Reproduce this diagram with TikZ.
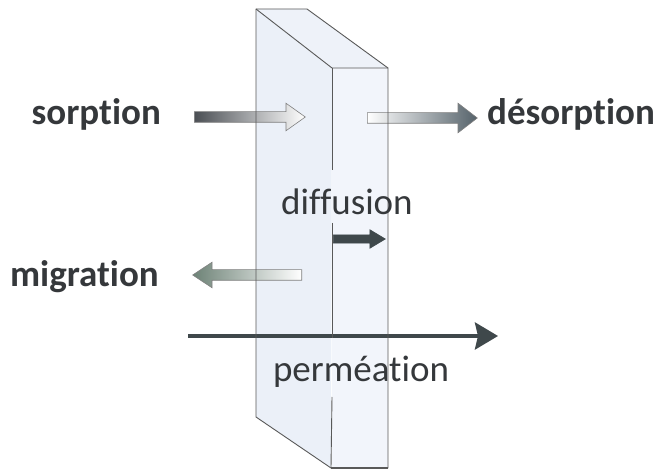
\documentclass[tikz,border=0pt]{standalone}
\usepackage{fontspec}
\setmainfont{Carlito}[Ligatures={NoCommon,NoContextual}, RawFeature={-liga;-clig;-calt;-dlig}]
\usepackage{xcolor}
\usetikzlibrary{shapes.arrows, arrows.meta}
\definecolor{txt}{HTML}{35383B}
\definecolor{sideface}{HTML}{EBF0F8}
\definecolor{frontface}{HTML}{F2F5FB}
\definecolor{topface}{HTML}{EEF2F9}
\definecolor{sordark}{HTML}{4B4F54}
\definecolor{desdark}{HTML}{55626A}
\definecolor{migdark}{HTML}{6D8276}
\definecolor{difdark}{HTML}{3F484B}

\begin{document}
\begin{tikzpicture}[x=1pt, y=-1pt]
\tikzset{
  lbl/.style={font=\fontsize{37}{40}\selectfont, text=txt, inner sep=0pt},
  bold/.style={font=\fontsize{37}{40}\selectfont\bfseries},
  edge/.style={draw=black!65, line width=0.9pt, line join=round},
  blk/.style={single arrow, draw=black!50, line width=0.6pt, inner xsep=0pt, inner ysep=5pt, anchor=tail},
  thin arr/.style={-{Stealth[length=23pt,width=27pt,inset=3pt]}, line width=4pt, draw=difdark}
}
\useasboundingbox (0,0) rectangle (657,473);
% ---- slab faces
\fill[sideface] (256,9) -- (332,68) -- (331,468) -- (256,417) -- cycle;
\fill[topface] (256,9) -- (307,9) -- (388,68) -- (332,68) -- cycle;
\fill[frontface] (332,68) rectangle (388,468);
% ---- arrows
\node[blk, minimum height=111pt, single arrow head extend=8.5pt, single arrow tip angle=71,
      left color=sordark, middle color=sordark!65, right color=white] (asor) at (194,117) {};
\node[blk, minimum height=110pt, single arrow head extend=9.5pt, single arrow tip angle=75,
      left color=white, middle color=desdark!55, right color=desdark] (ades) at (367,118) {};
\node[blk, minimum height=109pt, single arrow head extend=7.5pt, single arrow tip angle=67,
      shape border rotate=180, left color=migdark, middle color=migdark!45, right color=white] (amig) at (302,275) {};
\node[blk, draw=difdark, fill=difdark, inner ysep=3.75pt, minimum height=52pt,
      single arrow head extend=5.25pt, single arrow tip angle=62] (adif) at (333,239) {};
\coordinate (pa) at (188,336);
\coordinate (pb) at (498,336);
\draw[thin arr] (pa) -- (pb);
% ---- slab edges
\draw[edge] (256,417) -- (256,9) -- (307,9) -- (388,68) -- (388,468) -- (331,468) -- cycle;
\draw[edge] (256,9) -- (332,68) -- (388,68);
\draw[edge, line width=1.6pt] (331,468) -- (388,468);
\draw[edge] (332,68) -- (332,170);
\draw[edge] (332,223) -- (332,338);
\draw[edge] (332,397) -- (331,468);
% ---- labels
\node[lbl, bold, anchor=base east] (sor) at (161,125) {sorption};
\node[lbl, bold, anchor=base west] (des) at (487,125) {désorption};
\node[lbl, bold, anchor=base east] (mig) at (159,287) {migration};
\node[lbl, anchor=base] (dif) at (347,215) {diffusion};
\node[lbl, anchor=base] (per) at (361,382) {perméation};
\end{tikzpicture}
\end{document}
